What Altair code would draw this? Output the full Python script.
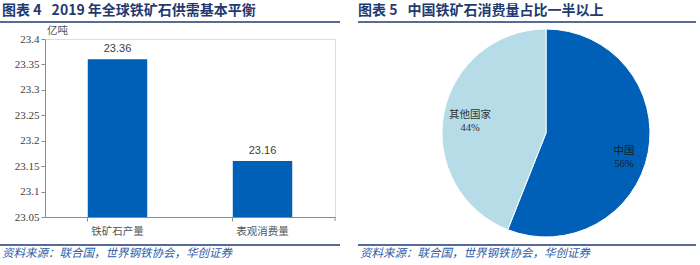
import altair as alt
import pandas as pd

# ---- data ----
bar_categories = ["铁矿石产量", "表观消费量"]
bar_values = [23.36, 23.16]
y_ticks = [23.05, 23.1, 23.15, 23.2, 23.25, 23.3, 23.35, 23.4]
pie_names = ["中国", "其他国家"]
pie_shares = [56, 44]
pie_labels = ["56%", "44%"]

title_left = "图表 4\u2002 2019 年全球铁矿石供需基本平衡"
title_right = "图表 5\u2002 中国铁矿石消费量占比一半以上"
source_text = "资料来源：联合国，世界钢铁协会，华创证券"
unit_text = "亿吨"

BLUE = "#0060B8"
LIGHT = "#B5DCE7"
TITLE_C = "#1F3A70"
CJK = "Noto Sans CJK SC"
SERIF = "Liberation Serif"

bars_df = pd.DataFrame({"cat": bar_categories, "val": bar_values,
                        "lbl": [f"{v:.2f}" for v in bar_values]})
pie_df = pd.DataFrame({"name": pie_names, "share": pie_shares,
                       "pct": pie_labels, "ord": [0, 1]})

# plot area: x 45..335, y 39..217
W, H = 290, 178
OX, OY = 45, 39

xscale = alt.Scale(paddingInner=0.59, paddingOuter=0.295)
yscale = alt.Scale(domain=[y_ticks[0], y_ticks[-1]], zero=False, nice=False)

base = alt.Chart(bars_df).encode(
    x=alt.X("cat:N", sort=bar_categories, title=None, scale=xscale,
            axis=alt.Axis(labelAngle=0, labelFont=CJK, labelFontSize=10.5,
                          labelColor="#555555", labelPadding=5,
                          domainColor="#8c8c8c", tickColor="#8c8c8c",
                          bandPosition=0, tickSize=4)),
    y=alt.Y("val:Q", title=None, scale=yscale,
            axis=alt.Axis(values=y_ticks, format=".4~g", grid=False,
                          labelOverlap=False, labelBound=False,
                          labelFont=SERIF, labelFontSize=11,
                          labelColor="#404040", domainColor="#8c8c8c",
                          tickColor="#8c8c8c", tickSize=4, labelPadding=2)),
)

bars = base.mark_bar(color=BLUE).encode(y2=alt.datum(y_ticks[0]))

bar_text = base.mark_text(font="Liberation Sans", fontSize=11, color="#404040",
                          dy=-10).encode(text="lbl:N")

end_tick = alt.Chart(bars_df).mark_rule(color="#8c8c8c").encode(
    x=alt.value(W), y=alt.value(H), y2=alt.value(H + 4)
).transform_filter("datum.cat == '铁矿石产量'")

def txt(s, x, y, size=11, color="#404040", font=CJK, weight="normal",
        style="normal", align="left"):
    return alt.Chart(pd.DataFrame({"t": [s]})).mark_text(
        font=font, fontSize=size, color=color, fontWeight=weight,
        fontStyle=style, align=align, baseline="middle").encode(
        x=alt.value(x - OX), y=alt.value(y - OY), text="t:N")

def hline(x1, x2, y, color=TITLE_C, w=1.3):
    return alt.Chart(pd.DataFrame({"a": [0]})).mark_rule(
        color=color, strokeWidth=w).encode(
        x=alt.value(x1 - OX), x2=alt.value(x2 - OX), y=alt.value(y - OY))

pie = alt.Chart(pie_df).mark_arc(radius=104, stroke="white", strokeWidth=1).encode(
    theta=alt.Theta("share:Q", stack=True),
    color=alt.Color("name:N", scale=alt.Scale(domain=pie_names, range=[BLUE, LIGHT]),
                    legend=None),
    order=alt.Order("ord:Q"),
    x=alt.value(546 - OX), y=alt.value(133 - OY),
)

layers = [
    bars, bar_text, end_tick,
    txt(unit_text, 47, 31, size=10.5, color="#555555"),
    txt(title_left, 2, 11, size=14, color=TITLE_C, weight="bold"),
    hline(0, 340, 22),
    hline(0, 340, 245),
    txt(source_text, 2, 254, size=11.5, color="#2E5CA8", style="italic"),
    pie,
    txt(title_right, 358, 11, size=14, color=TITLE_C, weight="bold"),
    hline(358, 696, 22),
    hline(358, 696, 245),
    txt(source_text, 360, 254, size=11.5, color="#2E5CA8", style="italic"),
    txt("其他国家", 470, 115, size=10.5, color="#333333", align="center"),
    txt("44%", 470, 128, size=10.5, color="#333333", font=SERIF, align="center"),
    txt("中国", 624, 151, size=10.5, color="#1a1a1a", align="center"),
    txt("56%", 624, 164, size=10.5, color="#1a1a1a", font=SERIF, align="center"),
]

chart = alt.layer(*layers).resolve_scale(color="independent").properties(
    width=W, height=H,
    autosize=alt.AutoSizeParams(type="none"),
    padding={"left": OX, "top": OY, "right": 700 - OX - W, "bottom": 265 - OY - H},
).configure_view(stroke=None).configure(background="white")

chart.save("out.html", embed_options={"renderer": "svg", "actions": False})
